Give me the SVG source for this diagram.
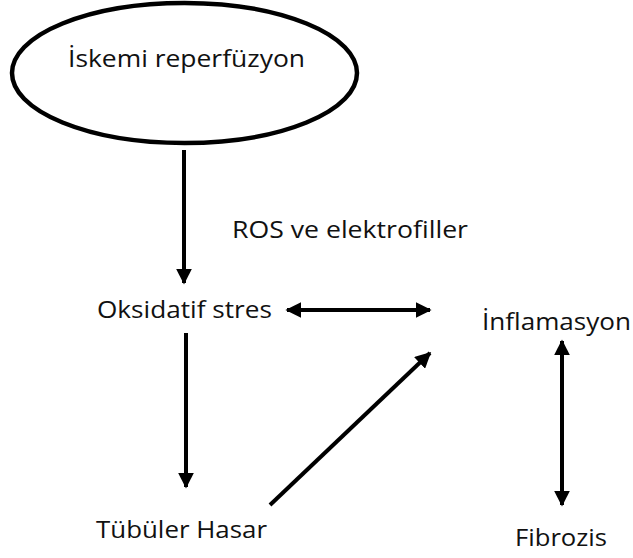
<svg xmlns="http://www.w3.org/2000/svg" width="633" height="558" viewBox="0 0 633 558">
<style>
text{font-family:"Open Sans","Liberation Sans",sans-serif;font-size:24px;fill:#111}
.c{stroke:#000;stroke-width:4;fill:none}
</style>
<defs>
<marker id="a" viewBox="0 0 10 10" refX="9" refY="5" markerWidth="4" markerHeight="4" orient="auto-start-reverse" markerUnits="strokeWidth">
<path d="M0,0L10,5L0,10z" fill="#000"/>
</marker>
</defs>
<rect width="633" height="558" fill="#fff"/>
<g id="n-iskemi">
<ellipse cx="184.5" cy="73" rx="172.5" ry="70" fill="none" stroke="#000" stroke-width="4.5"/>
<text x="68" y="67" textLength="237" lengthAdjust="spacingAndGlyphs">İskemi reperfüzyon</text>
</g>
<g id="n-ros"><text x="232" y="238" textLength="236" lengthAdjust="spacingAndGlyphs">ROS ve elektrofiller</text></g>
<g id="n-oks"><text x="97" y="318" textLength="175" lengthAdjust="spacingAndGlyphs">Oksidatif stres</text></g>
<g id="n-inf"><text x="482" y="330" textLength="149" lengthAdjust="spacingAndGlyphs">İnflamasyon</text></g>
<g id="n-tub"><text x="96" y="538" textLength="171" lengthAdjust="spacingAndGlyphs">Tübüler Hasar</text></g>
<g id="n-fib"><text x="515" y="546" textLength="92" lengthAdjust="spacingAndGlyphs">Fibrozis</text></g>
<g id="connectors">
<line class="c" x1="184" y1="150" x2="184" y2="283" marker-end="url(#a)"/>
<line class="c" x1="287" y1="310" x2="430" y2="310" marker-start="url(#a)" marker-end="url(#a)"/>
<line class="c" x1="562" y1="341" x2="562" y2="505" marker-start="url(#a)" marker-end="url(#a)"/>
<line class="c" x1="186" y1="333" x2="186" y2="487" marker-end="url(#a)"/>
<line class="c" x1="270" y1="505" x2="430" y2="353" marker-end="url(#a)"/>
</g>
</svg>
